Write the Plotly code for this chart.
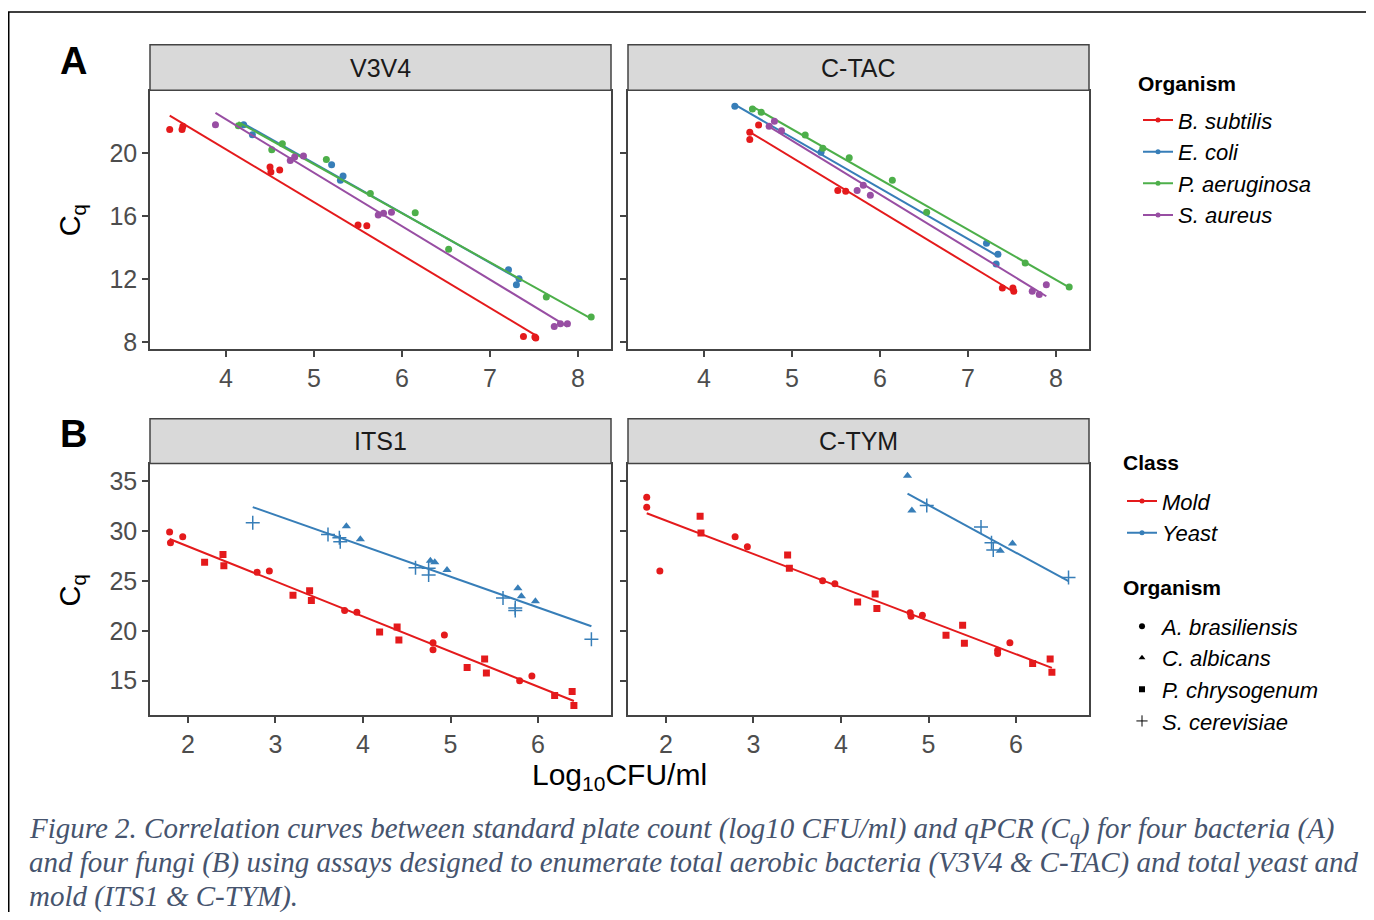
import numpy as np
import plotly.graph_objects as go

# page is 1374x920; the html body adds an 8px margin on every side
OFF = 8
W, H = 1374 - OFF, 920 - 2 * OFF

# ---------------- DATA ----------------
bact_names = ["B. subtilis", "E. coli", "P. aeruginosa", "S. aureus"]
bact_colors = ["#e41a1c", "#377eb8", "#4daf4a", "#984ea3"]

# V3V4 panel
v3v4_bsub_x = [3.36, 3.50, 3.51, 4.50, 4.51, 4.61, 5.50, 5.60, 7.38, 7.51, 7.52]
v3v4_bsub_y = [21.47, 21.47, 21.68, 19.10, 18.79, 18.91, 15.43, 15.39, 8.38, 8.34, 8.28]
v3v4_ecoli_x = [4.20, 4.30, 5.20, 5.33, 5.30, 7.21, 7.33, 7.30]
v3v4_ecoli_y = [21.78, 21.15, 19.25, 18.53, 18.26, 12.60, 12.03, 11.65]
v3v4_paer_x = [4.14, 4.52, 4.64, 5.14, 5.64, 6.15, 6.53, 7.64, 8.15]
v3v4_paer_y = [21.72, 20.19, 20.57, 19.58, 17.42, 16.21, 13.90, 10.88, 9.60]
v3v4_saur_x = [3.88, 4.73, 4.78, 4.88, 5.73, 5.79, 5.88, 7.73, 7.80, 7.88]
v3v4_saur_y = [21.78, 19.52, 19.73, 19.79, 16.06, 16.18, 16.23, 9.01, 9.18, 9.18]

# C-TAC panel
ctac_bsub_x = [4.52, 4.52, 4.62, 5.52, 5.61, 7.39, 7.51, 7.52]
ctac_bsub_y = [21.30, 20.84, 21.76, 17.61, 17.57, 11.45, 11.45, 11.24]
ctac_ecoli_x = [4.35, 5.33, 7.21, 7.34, 7.32]
ctac_ecoli_y = [22.94, 20.04, 14.28, 13.58, 12.96]
ctac_paer_x = [4.55, 4.65, 5.15, 5.35, 5.65, 6.14, 6.53, 7.65, 8.15]
ctac_paer_y = [22.77, 22.56, 21.13, 20.29, 19.68, 18.26, 16.23, 13.02, 11.51]
ctac_saur_x = [4.74, 4.80, 4.88, 5.74, 5.81, 5.89, 7.73, 7.81, 7.89]
ctac_saur_y = [21.68, 21.99, 21.40, 17.61, 17.94, 17.31, 11.24, 11.03, 11.65]

# ITS1 panel (fungi)
its1_abra_x = [1.79, 1.80, 1.94, 2.79, 2.93, 3.79, 3.93, 4.80, 4.80, 4.93, 5.79, 5.93]
its1_abra_y = [29.93, 28.83, 29.43, 25.88, 26.01, 22.03, 21.87, 18.81, 18.11, 19.58, 14.99, 15.46]
its1_pchr_x = [2.19, 2.40, 2.41, 3.20, 3.39, 3.41, 4.19, 4.39, 4.41, 5.19, 5.39, 5.41, 6.19, 6.39, 6.41]
its1_pchr_y = [26.87, 27.67, 26.54, 23.56, 24.02, 23.03, 19.88, 20.37, 19.08, 16.32, 17.16, 15.77, 13.51, 13.91, 12.51]
its1_calb_x = [3.81, 3.97, 4.77, 4.82, 4.96, 5.77, 5.81, 5.97]
its1_calb_y = [30.49, 29.20, 27.04, 26.87, 26.11, 24.28, 23.46, 22.96]
its1_scer_x = [2.74, 3.60, 3.73, 3.74, 4.60, 4.75, 4.75, 5.60, 5.74, 5.74, 6.61]
its1_scer_y = [30.85, 29.66, 29.33, 28.93, 26.34, 26.27, 25.60, 23.29, 22.29, 22.03, 19.15]

# C-TYM panel (fungi)
ctym_abra_x = [1.78, 1.78, 1.93, 2.79, 2.93, 3.79, 3.93, 4.79, 4.80, 4.93, 5.79, 5.79, 5.93]
ctym_abra_y = [33.41, 32.41, 26.01, 29.43, 28.43, 25.02, 24.72, 21.80, 21.47, 21.57, 18.05, 17.72, 18.81]
ctym_pchr_x = [2.39, 2.40, 3.39, 3.41, 4.19, 4.39, 4.41, 5.20, 5.39, 5.41, 6.19, 6.39, 6.41]
ctym_pchr_y = [31.49, 29.83, 27.61, 26.27, 22.89, 23.69, 22.23, 19.55, 20.57, 18.75, 16.72, 17.16, 15.83]
ctym_calb_x = [4.76, 4.81, 5.82, 5.96]
ctym_calb_y = [35.57, 32.08, 28.03, 28.76]
ctym_scer_x = [4.98, 5.60, 5.72, 5.74, 6.60]
ctym_scer_y = [32.58, 30.42, 28.83, 28.10, 25.34]

panel_titles = ["V3V4", "C-TAC", "ITS1", "C-TYM"]
class_names = ["Mold", "Yeast"]
class_colors = ["#e41a1c", "#377eb8"]
fungi_names = ["A. brasiliensis", "C. albicans", "P. chrysogenum", "S. cerevisiae"]
fungi_symbols = ["circle", "triangle-up", "square", "cross-thin"]

ticks_A_x = [4, 5, 6, 7, 8]
ticks_A_y = [8, 12, 16, 20]
ticks_B_x = [2, 3, 4, 5, 6]
ticks_B_y = [15, 20, 25, 30, 35]

caption_lines = [
    "Figure 2. Correlation curves between standard plate count (log10 CFU/ml) and qPCR (C<sub>q</sub>) for four bacteria (A)",
    "and four fungi (B) using assays designed to enumerate total aerobic bacteria (V3V4 &amp; C-TAC) and total yeast and",
    "mold (ITS1 &amp; C-TYM).",
]

# ---------------- FIGURE ----------------
FONT = "Liberation Sans, Arial, sans-serif"
fig = go.Figure()


def px_x(p):
    return (p - OFF) / W


def px_y(p):
    return 1 - (p - OFF) / H


panels = {
    1: dict(x=(150, 611), y=(92, 352)),
    2: dict(x=(628, 1089), y=(92, 352)),
    3: dict(x=(150, 611), y=(468, 721)),
    4: dict(x=(628, 1089), y=(468, 721)),
}


def fit_line(xs_list, ys_list):
    xs = np.concatenate([np.asarray(a, float) for a in xs_list])
    ys = np.concatenate([np.asarray(a, float) for a in ys_list])
    b, a = np.polyfit(xs, ys, 1)
    xl = np.array([xs.min(), xs.max()])
    return xl, a + b * xl


def ax_names(i):
    return ("x" if i == 1 else f"x{i}"), ("y" if i == 1 else f"y{i}")


# Panel A: bacteria
bact_data = {
    1: [(v3v4_bsub_x, v3v4_bsub_y), (v3v4_ecoli_x, v3v4_ecoli_y),
        (v3v4_paer_x, v3v4_paer_y), (v3v4_saur_x, v3v4_saur_y)],
    2: [(ctac_bsub_x, ctac_bsub_y), (ctac_ecoli_x, ctac_ecoli_y),
        (ctac_paer_x, ctac_paer_y), (ctac_saur_x, ctac_saur_y)],
}
for p in (1, 2):
    xa, ya = ax_names(p)
    for k, (xs, ys) in enumerate(bact_data[p]):
        col = bact_colors[k]
        fig.add_trace(go.Scatter(x=xs, y=ys, mode="markers", xaxis=xa, yaxis=ya,
                                 marker=dict(color=col, size=7), showlegend=False))
        xl, yl = fit_line([xs], [ys])
        fig.add_trace(go.Scatter(x=xl, y=yl, mode="lines", xaxis=xa, yaxis=ya,
                                 line=dict(color=col, width=2), showlegend=False))

# Panel B: fungi
fungi_data = {
    3: [(its1_abra_x, its1_abra_y), (its1_calb_x, its1_calb_y),
        (its1_pchr_x, its1_pchr_y), (its1_scer_x, its1_scer_y)],
    4: [(ctym_abra_x, ctym_abra_y), (ctym_calb_x, ctym_calb_y),
        (ctym_pchr_x, ctym_pchr_y), (ctym_scer_x, ctym_scer_y)],
}
fungi_class = [0, 1, 0, 1]  # Mold / Yeast
for p in (3, 4):
    xa, ya = ax_names(p)
    d = fungi_data[p]
    for c in (0, 1):
        members = [d[k] for k in range(4) if fungi_class[k] == c]
        xl, yl = fit_line([m[0] for m in members], [m[1] for m in members])
        fig.add_trace(go.Scatter(x=xl, y=yl, mode="lines", xaxis=xa, yaxis=ya,
                                 line=dict(color=class_colors[c], width=2), showlegend=False))
    for k, (xs, ys) in enumerate(d):
        col = class_colors[fungi_class[k]]
        sym = fungi_symbols[k]
        if sym == "cross-thin":
            mk = dict(symbol=sym, size=10, color=col, line=dict(color=col, width=1.5))
        elif sym == "triangle-up":
            mk = dict(symbol=sym, size=8, color=col)
        else:
            mk = dict(symbol=sym, size=7, color=col)
        fig.add_trace(go.Scatter(x=xs, y=ys, mode="markers", xaxis=xa, yaxis=ya,
                                 marker=mk, showlegend=False))

# Legend-only traces
for k, nm in enumerate(bact_names):
    fig.add_trace(go.Scatter(x=[None], y=[None], mode="lines+markers", name=f"<i>{nm}</i>",
                             line=dict(color=bact_colors[k], width=2),
                             marker=dict(color=bact_colors[k], size=5),
                             legend="legend", showlegend=True))
for c, nm in enumerate(class_names):
    fig.add_trace(go.Scatter(x=[None], y=[None], mode="lines+markers", name=f"<i>{nm}</i>",
                             line=dict(color=class_colors[c], width=2),
                             marker=dict(color=class_colors[c], size=5),
                             legend="legend2", showlegend=True))
for k, nm in enumerate(fungi_names):
    sym = fungi_symbols[k]
    if sym == "cross-thin":
        mk = dict(symbol=sym, size=8, color="black", line=dict(color="black", width=1))
    else:
        mk = dict(symbol=sym, size=6, color="black")
    fig.add_trace(go.Scatter(x=[None], y=[None], mode="markers", name=f"<i>{nm}</i>",
                             marker=mk, legend="legend3", showlegend=True))

# Axes
axis_common = dict(showline=True, mirror=True, linecolor="#444444", linewidth=1.5,
                   ticks="outside", ticklen=6, tickwidth=1.5, tickcolor="#444444",
                   showgrid=False, zeroline=False,
                   tickfont=dict(family=FONT, size=25, color="#4d4d4d"))
layout_axes = {}
for p, geo in panels.items():
    xk = "xaxis" if p == 1 else f"xaxis{p}"
    yk = "yaxis" if p == 1 else f"yaxis{p}"
    xa, ya = ax_names(p)
    if p in (1, 2):
        xr, yr, xt, yt = [3.136, 8.375], [7.56, 23.89], ticks_A_x, ticks_A_y
    else:
        xr, yr, xt, yt = [1.566, 6.834], [11.5, 36.7], ticks_B_x, ticks_B_y
    layout_axes[xk] = dict(axis_common, domain=[px_x(geo["x"][0]), px_x(geo["x"][1])],
                           range=xr, tickvals=xt, anchor=ya)
    layout_axes[yk] = dict(axis_common, domain=[px_y(geo["y"][1]), px_y(geo["y"][0])],
                           range=yr, tickvals=yt, anchor=xa,
                           showticklabels=(p in (1, 3)))

shapes = []
annotations = []
# strips
for p, geo in panels.items():
    y0 = 45 if p in (1, 2) else 422
    y1 = geo["y"][0] - 1
    shapes.append(dict(type="rect", xref="paper", yref="paper",
                       x0=px_x(geo["x"][0]), x1=px_x(geo["x"][1]),
                       y0=px_y(y1), y1=px_y(y0),
                       fillcolor="#d9d9d9", line=dict(color="#444444", width=1.5), layer="above"))
    annotations.append(dict(xref="paper", yref="paper",
                            x=px_x((geo["x"][0] + geo["x"][1]) / 2), y=px_y((y0 + y1) / 2),
                            text=panel_titles[p - 1], showarrow=False,
                            font=dict(family=FONT, size=25, color="#1a1a1a"),
                            xanchor="center", yanchor="middle"))
# outer border
shapes.append(dict(type="rect", xref="paper", yref="paper", x0=px_x(8.75), x1=px_x(1400),
                   y0=px_y(960), y1=px_y(12), line=dict(color="black", width=1.5),
                   fillcolor="rgba(0,0,0,0)"))

# panel letters
for letter, yy in (("A", 61), ("B", 437)):
    annotations.append(dict(xref="paper", yref="paper", x=px_x(73), y=px_y(yy), text=f"<b>{letter}</b>",
                            showarrow=False, font=dict(family=FONT, size=38, color="black"),
                            xanchor="center", yanchor="middle"))
# y titles
for yy in (222, 595):
    annotations.append(dict(xref="paper", yref="paper", x=px_x(72), y=px_y(yy), text="C<sub>q</sub>",
                            textangle=-90, showarrow=False,
                            font=dict(family=FONT, size=29, color="black"),
                            xanchor="center", yanchor="middle"))
# x title
annotations.append(dict(xref="paper", yref="paper", x=px_x(619.5), y=px_y(782),
                        text="Log<sub>10</sub>CFU/ml", showarrow=False,
                        font=dict(family=FONT, size=30, color="black"),
                        xanchor="center", yanchor="middle"))
# legend titles
for txt, xx, yy in (("Organism", 1136, 84), ("Class", 1121, 466), ("Organism", 1121, 592)):
    annotations.append(dict(xref="paper", yref="paper", x=px_x(xx), y=px_y(yy),
                            text=f"<b>{txt}</b>", showarrow=False,
                            font=dict(family=FONT, size=21, color="black"),
                            xanchor="left", yanchor="middle"))
# caption
for i, (line, yy) in enumerate(zip(caption_lines, (837, 869, 903))):
    annotations.append(dict(xref="paper", yref="paper", x=px_x(27), y=px_y(yy),
                            text=f"<i>{line}</i>", showarrow=False,
                            font=dict(family="Liberation Serif, Times New Roman, serif", size=29,
                                      color="#46546e"),
                            xanchor="left", yanchor="middle"))

legend_font = dict(family=FONT, size=22, color="black")
fig.update_layout(
    width=W, height=H,
    margin=dict(l=0, r=0, t=0, b=0),
    paper_bgcolor="white", plot_bgcolor="white",
    shapes=shapes, annotations=annotations,
    legend=dict(x=px_x(1138), y=px_y(100), xanchor="left", yanchor="top",
                font=legend_font, bgcolor="rgba(0,0,0,0)", tracegroupgap=0),
    legend2=dict(x=px_x(1122), y=px_y(484), xanchor="left", yanchor="top",
                 font=legend_font, bgcolor="rgba(0,0,0,0)", tracegroupgap=0),
    legend3=dict(x=px_x(1122), y=px_y(610), xanchor="left", yanchor="top",
                 font=legend_font, bgcolor="rgba(0,0,0,0)", tracegroupgap=0),
    **layout_axes,
)

fig.write_html("out.html")
